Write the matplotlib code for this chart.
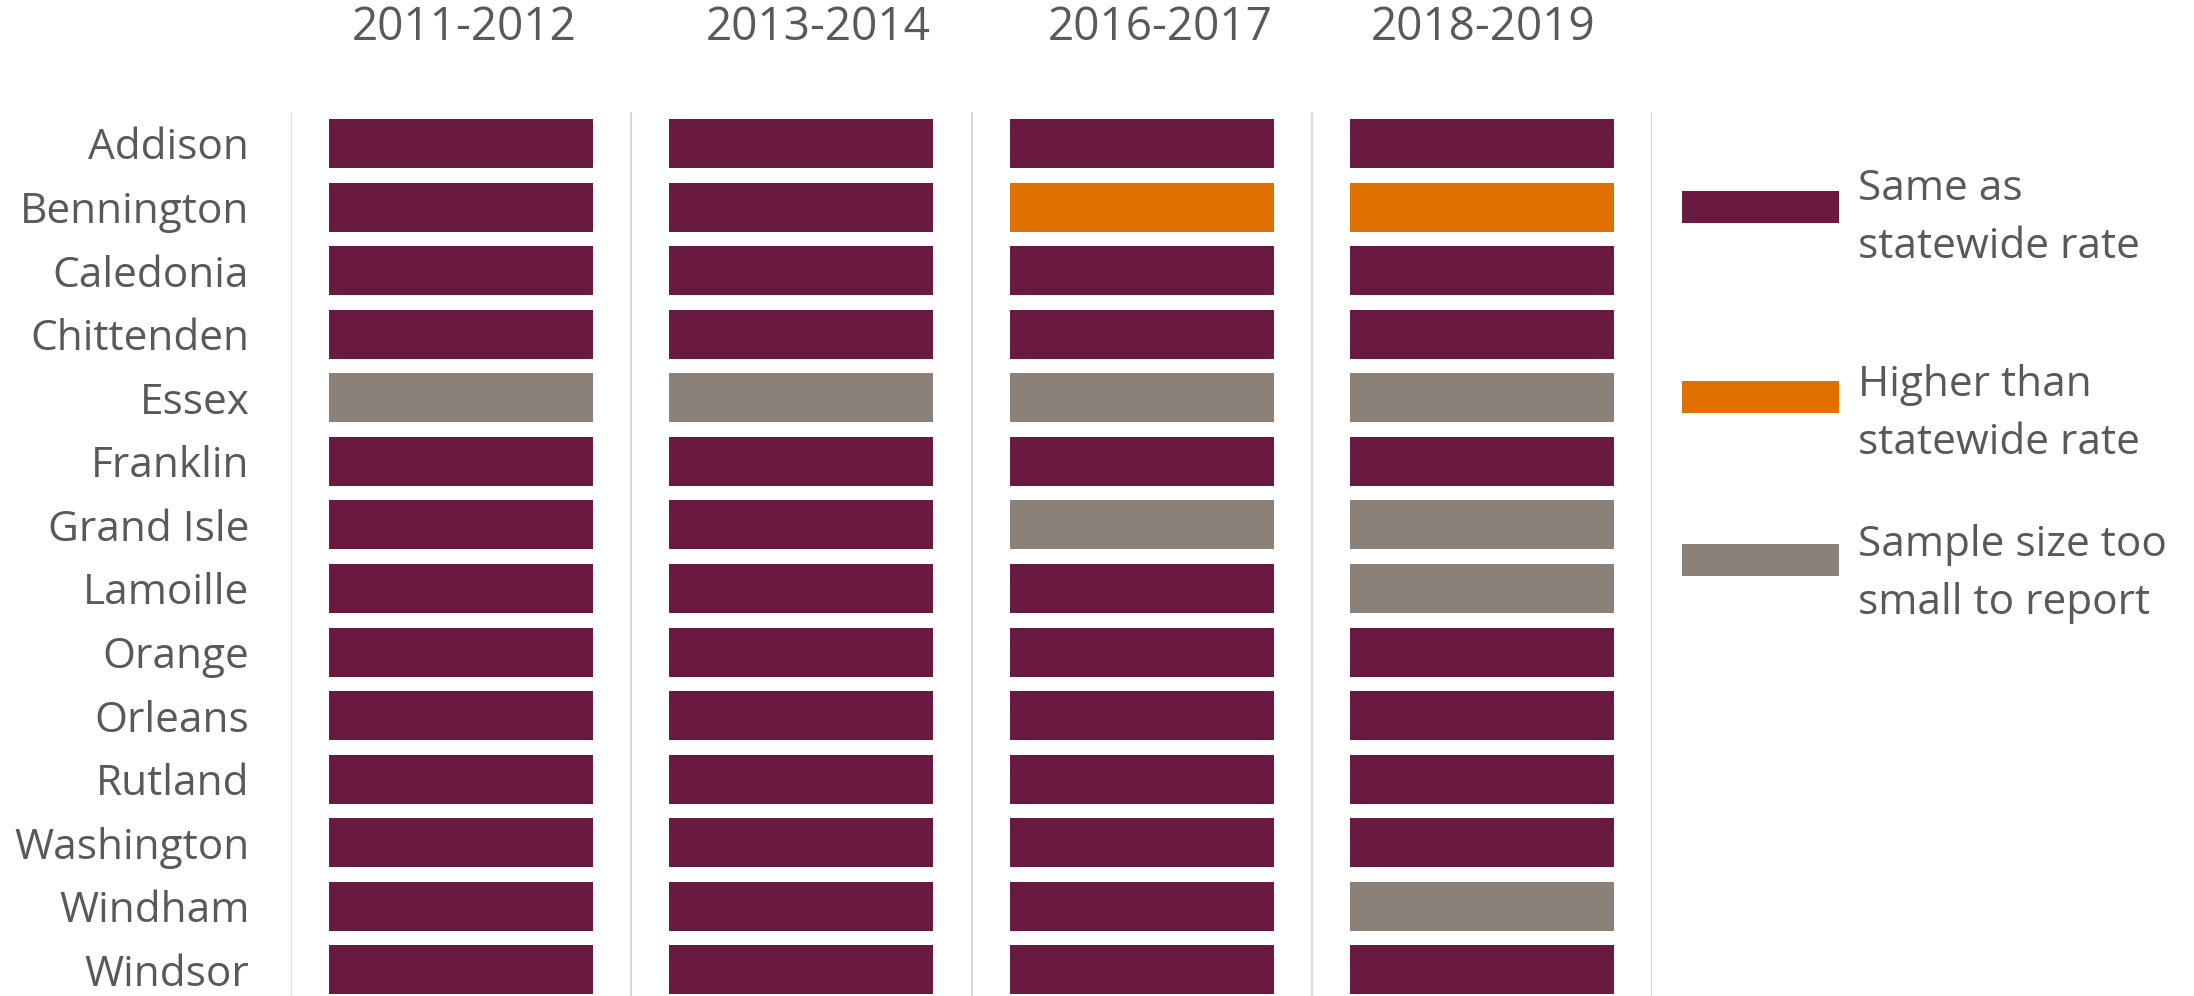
import matplotlib
matplotlib.use("Agg")
import matplotlib.pyplot as plt
from matplotlib.patches import Rectangle
from matplotlib.transforms import blended_transform_factory

counties = ["Addison", "Bennington", "Caledonia", "Chittenden", "Essex", "Franklin",
            "Grand Isle", "Lamoille", "Orange", "Orleans", "Rutland", "Washington",
            "Windham", "Windsor"]
periods = ["2011-2012", "2013-2014", "2016-2017", "2018-2019"]
# 0 = same as statewide, 1 = higher than statewide, 2 = sample too small
status_2011_2012 = [0, 0, 0, 0, 2, 0, 0, 0, 0, 0, 0, 0, 0, 0]
status_2013_2014 = [0, 0, 0, 0, 2, 0, 0, 0, 0, 0, 0, 0, 0, 0]
status_2016_2017 = [0, 1, 0, 0, 2, 0, 2, 0, 0, 0, 0, 0, 0, 0]
status_2018_2019 = [0, 1, 0, 0, 2, 0, 2, 2, 0, 0, 0, 0, 2, 0]
legend_labels = ["Same as\nstatewide rate", "Higher than\nstatewide rate",
                 "Sample size too\nsmall to report"]
colors = ["#6A1A41", "#E07000", "#8B8178"]

statuses = [status_2011_2012, status_2013_2014, status_2016_2017, status_2018_2019]

W, H = 2194, 996
fig = plt.figure(figsize=(W / 100, H / 100), dpi=100)
font = "Open Sans"
tcol = "#595959"
fs = 30.5
fs_title = 33

ax = fig.add_axes([291 / W, 0, (1652 - 291) / W, (H - 112) / H])
for i, st in enumerate(statuses):
    ax.barh(range(len(counties)), [0.776] * len(counties), left=i + 0.112,
            height=0.77, color=[colors[s] for s in st], edgecolor="none")
ax.set_xlim(0, 4)
ax.set_ylim(13.41, -0.495)
for x in range(5):
    ax.axvline(x, color="#D9D9D9", lw=1.5, zorder=0)
for s in ax.spines.values():
    s.set_visible(False)
ax.set_xticks([])
ax.set_yticks(range(len(counties)))
ax.set_yticklabels(counties, fontsize=fs, color=tcol, family=font)
ax.tick_params(axis="y", length=0, pad=30)

tr = blended_transform_factory(ax.transData, ax.transAxes)
title_shift = [0.01, 0.05, 0.055, 0.005]
for i, p in enumerate(periods):
    ax.text(i + 0.5 + title_shift[i], 1 + 84 / 884, p, transform=tr, ha="center",
            va="center", fontsize=fs_title, color=tcol, family=font)

# legend
lax = fig.add_axes([0, 0, 1, 1], facecolor="none")
lax.set_xlim(0, W)
lax.set_ylim(H, 0)
lax.axis("off")
patch_y = [207, 397, 560]
text_y = [218, 414, 574]
for c, lab, py, ty in zip(colors, legend_labels, patch_y, text_y):
    lax.add_patch(Rectangle((1682, py - 16), 157, 32, color=c, lw=0))
    lax.text(1858, ty, lab, ha="left", va="center", fontsize=fs, color=tcol,
             family=font, linespacing=1.53)

fig.savefig("out.png", dpi=100)
